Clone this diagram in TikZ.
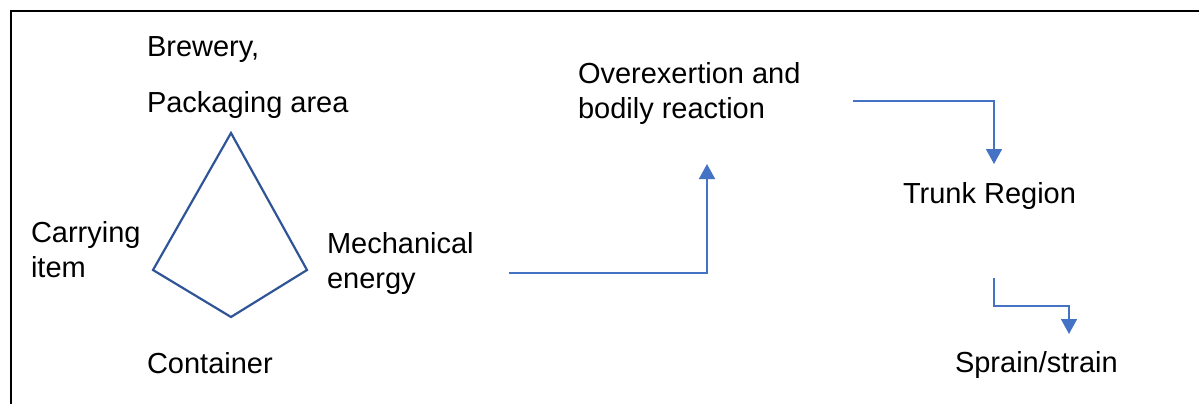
\documentclass[tikz,border=0pt]{standalone}
\usepackage{fontspec}
\setmainfont{Liberation Sans}
\usetikzlibrary{arrows.meta}
\definecolor{kiteblue}{RGB}{47,85,151}
\definecolor{linkblue}{RGB}{68,114,196}
\begin{document}
\begin{tikzpicture}[x=1pt,y=-1pt,
  lbl/.style={anchor=base west,inner sep=0pt,outer sep=0pt,font=\fontsize{29}{35}\selectfont,align=left},
  kite/.style={draw=kiteblue,line width=2.2pt,line join=miter},
  link/.style={draw=linkblue,line width=1.6pt,-{Triangle[width=16pt,length=15pt]}},
  frame/.style={draw=black,line width=2.2pt}]
\useasboundingbox (0,0) rectangle (1199,404);
\draw[frame] (11,404) -- (11,11) -- (1199,11);
% labels
\node[lbl] (brew) at (147,57) {Brewery,};
\node[lbl] (pack) at (147,112) {Packaging area};
\node[lbl] (carry) at (31,277) {Carrying\\item};
\node[lbl] (mech) at (327,288) {Mechanical\\energy};
\node[lbl] (cont) at (147,373) {Container};
\node[lbl] (over) at (578,118) {Overexertion and\\bodily reaction};
\node[lbl] (trunk) at (903,203) {Trunk Region};
\node[lbl] (sprain) at (955,372) {Sprain/strain};
% kite
\coordinate (kt) at (231,133);
\coordinate (kl) at (153,270);
\coordinate (kb) at (231,317);
\coordinate (kr) at (307,270);
\draw[kite] (kt) -- (kl) -- (kb) -- (kr) -- cycle;
% connectors
\coordinate (m1) at (509,273);
\coordinate (o1) at (707,164);
\draw[link] (m1) -- (707,273) -- (o1);
\coordinate (o2) at (853,101);
\coordinate (t1) at (994,164);
\draw[link] (o2) -- (994,101) -- (t1);
\coordinate (t2) at (994,278);
\coordinate (s1) at (1069,334);
\draw[link] (t2) -- (994,306) -- (1069,306) -- (s1);
\end{tikzpicture}
\end{document}
